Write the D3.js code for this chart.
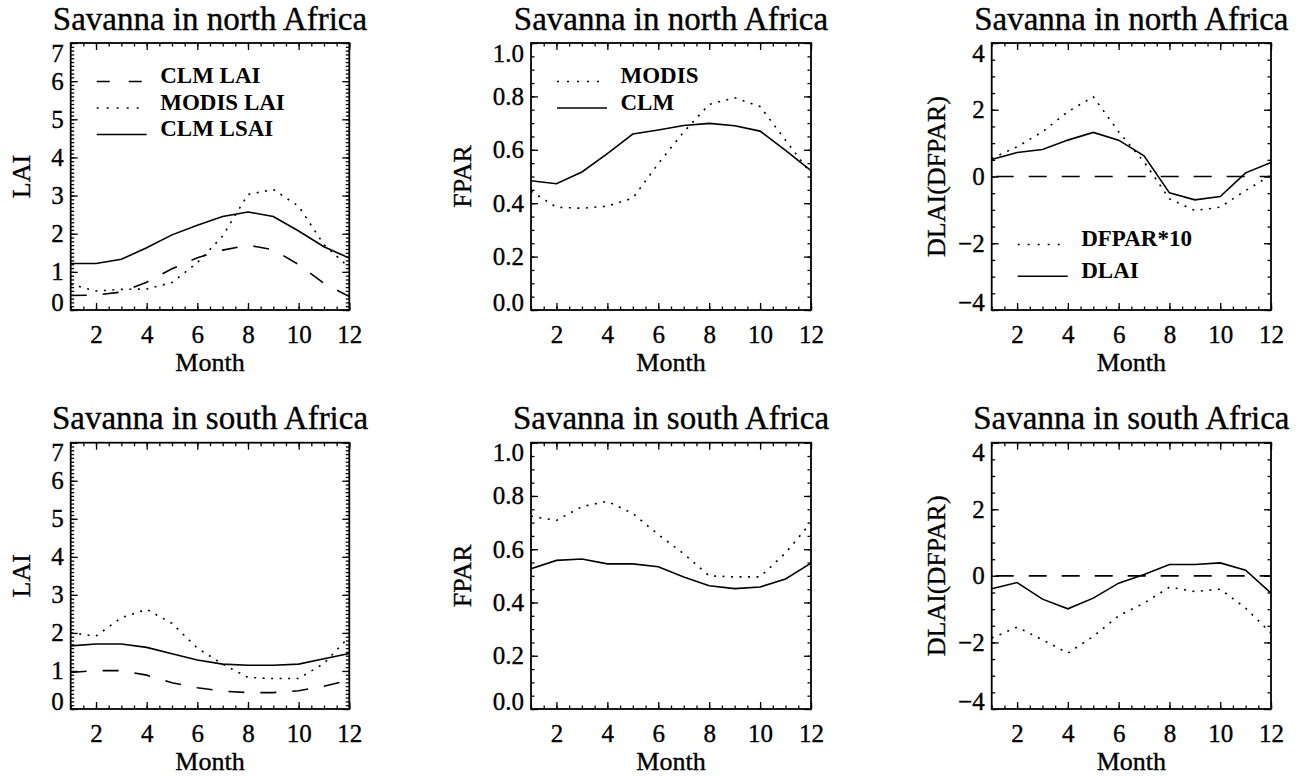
<!DOCTYPE html>
<html>
<head>
<meta charset="utf-8">
<script src="https://cdn.jsdelivr.net/npm/d3@7"></script>
<style>
  body { margin: 0; background: #fff; }
  svg { display: block; }
  text { font-family: "Liberation Serif", "Times New Roman", serif; fill: #000; }
  text.heavy { stroke: #000; stroke-width: 0.35px; }
</style>
</head>
<body>
<div id="chart"></div>
<script>
const months = [1, 2, 3, 4, 5, 6, 7, 8, 9, 10, 11, 12];
const monthTicks = [2, 4, 6, 8, 10, 12];

// north Africa savanna
const northClmLai   = [0.38, 0.39, 0.47, 0.73, 1.08, 1.37, 1.57, 1.70, 1.58, 1.19, 0.70, 0.35];
const northModisLai = [0.67, 0.50, 0.54, 0.55, 0.72, 1.24, 1.94, 3.03, 3.16, 2.72, 1.71, 1.11];
const northClmLsai  = [1.22, 1.22, 1.33, 1.63, 1.97, 2.22, 2.45, 2.57, 2.45, 2.07, 1.66, 1.36];
const northModisFpar = [0.445, 0.385, 0.381, 0.389, 0.419, 0.548, 0.667, 0.770, 0.795, 0.762, 0.636, 0.510];
const northClmFpar   = [0.484, 0.473, 0.517, 0.586, 0.659, 0.674, 0.691, 0.699, 0.690, 0.670, 0.598, 0.522];
const northDfpar = [0.54, 0.89, 1.34, 1.94, 2.39, 1.34, 0.44, -0.67, -1.02, -0.92, -0.42, 0.04];
const northDlai  = [0.51, 0.72, 0.81, 1.09, 1.32, 1.09, 0.62, -0.49, -0.70, -0.60, 0.11, 0.42];

// south Africa savanna
const southClmLai   = [0.96, 1.01, 1.01, 0.89, 0.69, 0.56, 0.47, 0.43, 0.43, 0.48, 0.60, 0.76];
const southModisLai = [2.00, 1.92, 2.40, 2.62, 2.25, 1.60, 1.18, 0.83, 0.80, 0.80, 1.20, 1.90];
const southClmLsai  = [1.66, 1.71, 1.71, 1.62, 1.45, 1.29, 1.18, 1.15, 1.15, 1.18, 1.32, 1.46];
const southModisFpar = [0.724, 0.708, 0.760, 0.780, 0.734, 0.655, 0.583, 0.500, 0.496, 0.496, 0.586, 0.700];
const southClmFpar   = [0.527, 0.558, 0.563, 0.545, 0.545, 0.534, 0.496, 0.463, 0.452, 0.458, 0.488, 0.548];
const southDfpar = [-1.87, -1.54, -1.92, -2.32, -1.82, -1.20, -0.82, -0.34, -0.47, -0.40, -0.97, -1.72];
const southDlai  = [-0.39, -0.20, -0.70, -0.99, -0.67, -0.22, 0.04, 0.34, 0.34, 0.39, 0.17, -0.52];

const laiTicks  = [0, 1, 2, 3, 4, 5, 6, 7];
const fparTicks = [0, 0.2, 0.4, 0.6, 0.8, 1.0];
const dlaiTicks = [-4, -2, 0, 2, 4];

const width = 1305, height = 776;
const svg = d3.select("#chart").append("svg")
    .attr("width", width)
    .attr("height", height);

const FONT = "Liberation Serif, Times New Roman, serif";
const DOT = "2,6.5", DASH = "16,16";

const cols = [
  { left: 70.7, right: 349.3, ylabX: 21.7, ylab: "LAI", domain: [0, 7], ticks: laiTicks, minor: 0.1, fmt: d3.format("d") },
  { left: 531, right: 811, ylabX: 462, ylab: "FPAR", domain: [0, 1], ticks: fparTicks, minor: 0.05, fmt: d3.format(".1f") },
  { left: 991.7, right: 1271, ylabX: 936, ylab: "DLAI(DFPAR)", domain: [-4, 4], ticks: dlaiTicks, minor: 0.5, fmt: d3.format("d") }
];
const rows = [
  { top: 43, bottom: 310, title: "Savanna in north Africa" },
  { top: 442.7, bottom: 709, title: "Savanna in south Africa" }
];

const panels = [
  { c: 0, r: 0, series: [
      { v: northClmLai, dash: DASH, name: "CLM LAI" },
      { v: northModisLai, dash: DOT, name: "MODIS LAI" },
      { v: northClmLsai, dash: null, name: "CLM LSAI" }], legend: true },
  { c: 1, r: 0, series: [
      { v: northModisFpar, dash: DOT, name: "MODIS" },
      { v: northClmFpar, dash: null, name: "CLM" }], legend: true },
  { c: 2, r: 0, zero: true, series: [
      { v: northDfpar, dash: DOT, name: "DFPAR*10" },
      { v: northDlai, dash: null, name: "DLAI" }], legend: true, legendTop: 246 },
  { c: 0, r: 1, series: [
      { v: southClmLai, dash: DASH }, { v: southModisLai, dash: DOT }, { v: southClmLsai, dash: null }] },
  { c: 1, r: 1, series: [
      { v: southModisFpar, dash: DOT }, { v: southClmFpar, dash: null }] },
  { c: 2, r: 1, zero: true, series: [
      { v: southDfpar, dash: DOT }, { v: southDlai, dash: null }] }
];

panels.forEach(p => {
  const col = cols[p.c], row = rows[p.r];
  const x = d3.scaleLinear().domain([1, 12]).range([col.left, col.right]);
  const y = d3.scaleLinear().domain(col.domain).range([row.bottom, row.top]);
  const g = svg.append("g");

  const xMinor = d3.range(1, 12.01, 0.5);
  const yMinor = d3.range(col.domain[0], col.domain[1] + 1e-6, col.minor);

  // minor ticks, all four sides, pointing inward
  g.append("g").attr("transform", `translate(0,${row.bottom})`)
    .call(d3.axisBottom(x).tickValues(xMinor).tickSize(-3.5).tickFormat(""));
  g.append("g").attr("transform", `translate(0,${row.top})`)
    .call(d3.axisTop(x).tickValues(xMinor).tickSize(-3.5).tickFormat(""));
  g.append("g").attr("transform", `translate(${col.left},0)`)
    .call(d3.axisLeft(y).tickValues(yMinor).tickSize(-3.5).tickFormat(""));
  g.append("g").attr("transform", `translate(${col.right},0)`)
    .call(d3.axisRight(y).tickValues(yMinor).tickSize(-3.5).tickFormat(""));

  // major ticks + labels
  g.append("g").attr("transform", `translate(0,${row.bottom})`)
    .call(d3.axisBottom(x).tickValues(monthTicks).tickSize(-7).tickPadding(15).tickFormat(d3.format("d")));
  g.append("g").attr("transform", `translate(0,${row.top})`)
    .call(d3.axisTop(x).tickValues(monthTicks).tickSize(-7).tickFormat(""));
  const yax = g.append("g").attr("transform", `translate(${col.left},0)`)
    .call(d3.axisLeft(y).tickValues(col.ticks).tickSize(-7).tickPadding(7).tickFormat(col.fmt));
  g.append("g").attr("transform", `translate(${col.right},0)`)
    .call(d3.axisRight(y).tickValues(col.ticks).tickSize(-7).tickFormat(""));

  // keep end labels inside the frame height
  yax.selectAll(".tick text").attr("transform", d =>
    d === col.domain[0] ? "translate(0,-8)" : d === col.domain[1] ? "translate(0,10)" : null);

  g.selectAll("g").attr("font-family", null).attr("font-size", null);
  g.selectAll(".domain").remove();
  g.selectAll(".tick line").attr("stroke", "#000").attr("stroke-width", 1.3);
  g.selectAll(".tick text")
    .attr("class", "heavy")
    .attr("font-family", FONT)
    .attr("font-size", 25)
    .attr("fill", "#000");

  // frame
  g.append("rect")
    .attr("x", col.left).attr("y", row.top)
    .attr("width", col.right - col.left).attr("height", row.bottom - row.top)
    .attr("fill", "none").attr("stroke", "#000").attr("stroke-width", 1.8);

  if (p.zero) {
    g.append("line")
      .attr("x1", x(1)).attr("x2", x(12)).attr("y1", y(0)).attr("y2", y(0))
      .attr("stroke", "#000").attr("stroke-width", 1.6).attr("stroke-dasharray", "18,15")
      .attr("stroke-dashoffset", -4);
  }

  const line = d3.line().x((d, i) => x(months[i])).y(d => y(d));
  p.series.forEach(s => {
    g.append("path")
      .attr("d", line(s.v))
      .attr("fill", "none")
      .attr("stroke", "#000")
      .attr("stroke-width", 1.6)
      .attr("stroke-dasharray", s.dash);
  });

  // title and axis titles
  g.append("text").attr("class", "heavy")
    .attr("x", (col.left + col.right) / 2).attr("y", row.top - 13.5)
    .attr("text-anchor", "middle").attr("font-size", 33)
    .text(row.title);
  g.append("text").attr("class", "heavy")
    .attr("x", (col.left + col.right) / 2).attr("y", row.bottom + 61)
    .attr("text-anchor", "middle").attr("font-size", 26)
    .text("Month");
  g.append("text").attr("class", "heavy")
    .attr("transform", `translate(${col.ylabX},${(row.top + row.bottom) / 2}) rotate(-90)`)
    .attr("text-anchor", "middle").attr("dominant-baseline", "central")
    .attr("font-size", 26)
    .text(col.ylab);

  if (p.legend) {
    const base = p.legendTop !== undefined ? p.legendTop : row.top + 40;
    p.series.forEach((s, i) => {
      const by = base + i * (p.c === 2 ? 31.7 : 26.5);
      g.append("line")
        .attr("x1", col.left + 26).attr("x2", col.left + 76)
        .attr("y1", by - 1.5).attr("y2", by - 1.5)
        .attr("stroke", "#000").attr("stroke-width", 1.6)
        .attr("stroke-dasharray", s.dash === DASH ? "13,19" : s.dash === DOT ? "2,8" : null);
      g.append("text")
        .attr("x", col.left + 89.5).attr("y", by)
        .attr("font-size", 23).attr("font-weight", "bold")
        .text(s.name);
    });
  }
});
</script>
</body>
</html>
